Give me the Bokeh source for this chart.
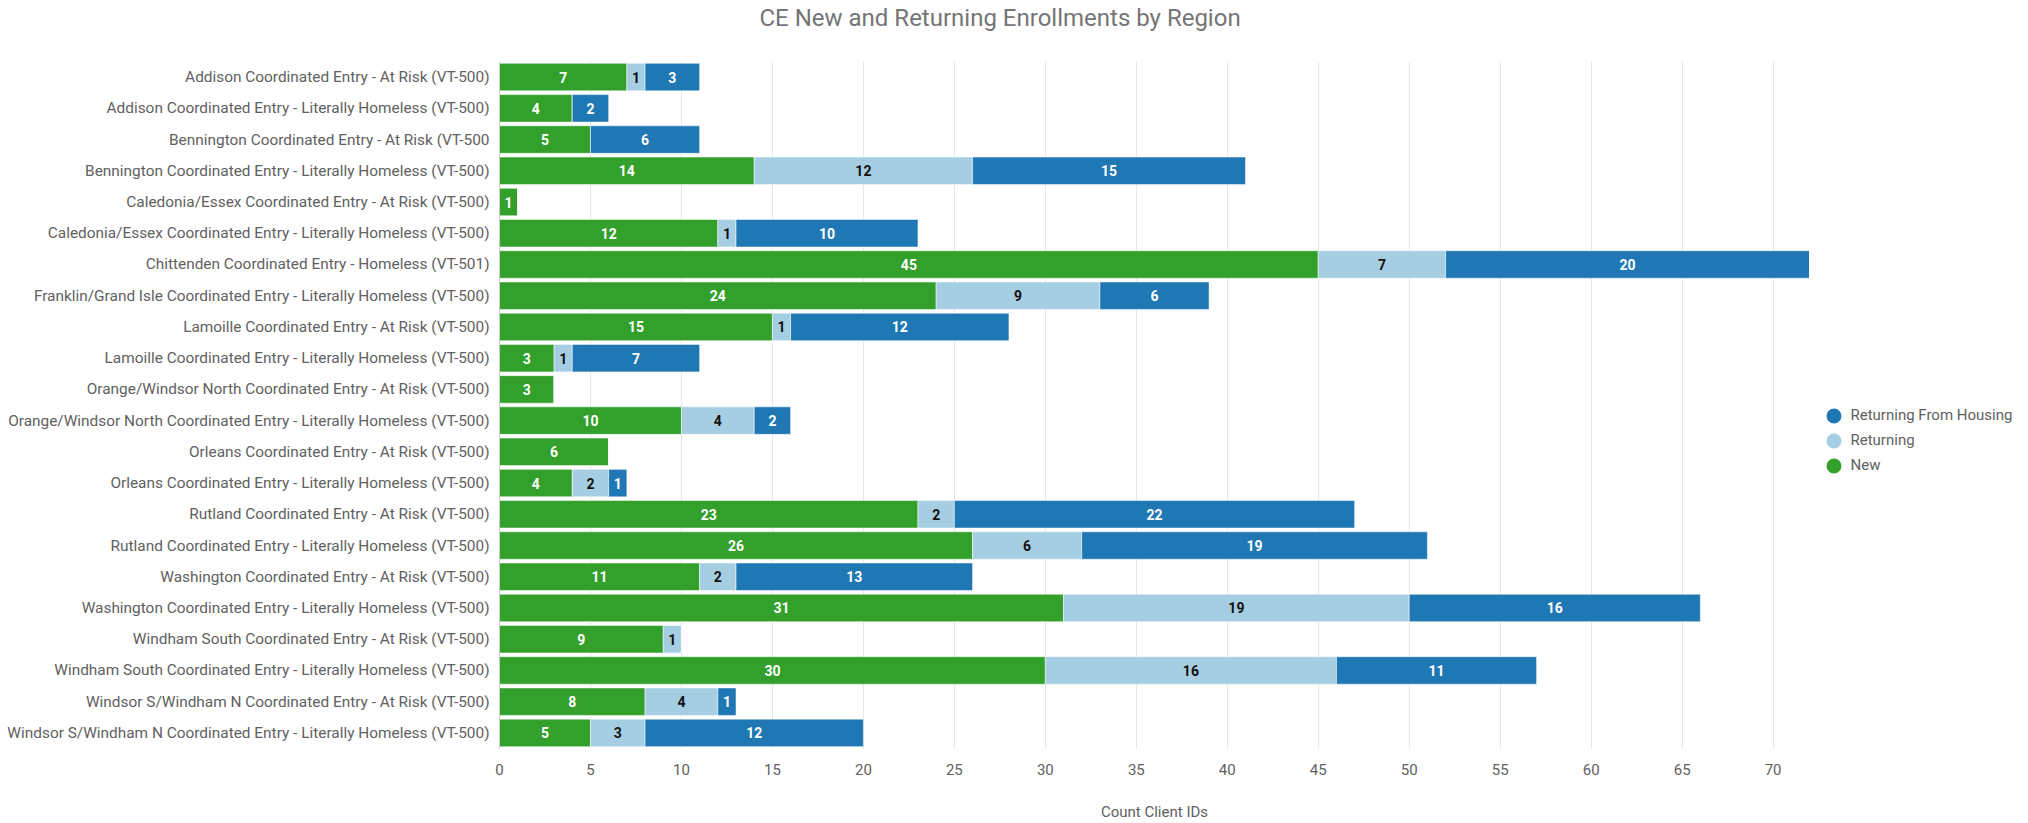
from bokeh.plotting import figure
from bokeh.models import ColumnDataSource, Legend, LegendItem, FactorRange, Label, Range1d
from bokeh.layouts import column, row
from bokeh.core.properties import value
from bokeh.embed import file_html
from bokeh.resources import INLINE

categories = [
    "Addison Coordinated Entry - At Risk (VT-500)",
    "Addison Coordinated Entry - Literally Homeless (VT-500)",
    "Bennington Coordinated Entry - At Risk (VT-500",
    "Bennington Coordinated Entry - Literally Homeless (VT-500)",
    "Caledonia/Essex Coordinated Entry - At Risk (VT-500)",
    "Caledonia/Essex Coordinated Entry - Literally Homeless (VT-500)",
    "Chittenden Coordinated Entry - Homeless (VT-501)",
    "Franklin/Grand Isle Coordinated Entry - Literally Homeless (VT-500)",
    "Lamoille Coordinated Entry - At Risk (VT-500)",
    "Lamoille Coordinated Entry - Literally Homeless (VT-500)",
    "Orange/Windsor North Coordinated Entry - At Risk (VT-500)",
    "Orange/Windsor North Coordinated Entry - Literally Homeless (VT-500)",
    "Orleans Coordinated Entry - At Risk (VT-500)",
    "Orleans Coordinated Entry - Literally Homeless (VT-500)",
    "Rutland Coordinated Entry - At Risk (VT-500)",
    "Rutland Coordinated Entry - Literally Homeless (VT-500)",
    "Washington Coordinated Entry - At Risk (VT-500)",
    "Washington Coordinated Entry - Literally Homeless (VT-500)",
    "Windham South Coordinated Entry - At Risk (VT-500)",
    "Windham South Coordinated Entry - Literally Homeless (VT-500)",
    "Windsor S/Windham N Coordinated Entry - At Risk (VT-500)",
    "Windsor S/Windham N Coordinated Entry - Literally Homeless (VT-500)",
]
new = [7, 4, 5, 14, 1, 12, 45, 24, 15, 3, 3, 10, 6, 4, 23, 26, 11, 31, 9, 30, 8, 5]
returning = [1, 0, 0, 12, 0, 1, 7, 9, 1, 1, 0, 4, 0, 2, 2, 6, 2, 19, 1, 16, 4, 3]
returning_housing = [3, 2, 6, 15, 0, 10, 20, 6, 12, 7, 0, 2, 0, 1, 22, 19, 13, 16, 0, 11, 1, 12]
x_ticks = [0, 5, 10, 15, 20, 25, 30, 35, 40, 45, 50, 55, 60, 65, 70]

series_names = ["New", "Returning", "Returning From Housing"]
series_keys = ["new", "returning", "returning_housing"]
colors = ["#33a02c", "#a6cee3", "#1f78b4"]
label_colors = ["white", "#111111", "white"]

TITLE = "CE New and Returning Enrollments by Region"

source = ColumnDataSource(dict(cat=categories, new=new, returning=returning,
                               returning_housing=returning_housing))

# overall geometry (page pixels)
W, H = 2028, 823
TH = 40                 # height of the title strip
FL, FR, FT, FB = 499, 1809, 61, 749
MH = H - TH             # height of main chart / legend strip

# ---------------- title strip ----------------
tf = figure(width=W, height=TH, output_backend="svg", toolbar_location=None,
            x_range=Range1d(0, 1), y_range=Range1d(0, 1),
            x_axis_location=None, y_axis_location=None)
tf.min_border_left = tf.min_border_right = tf.min_border_top = tf.min_border_bottom = 0
tf.outline_line_color = None
tf.grid.visible = False
tf.add_layout(Label(x=759, y=TH - 17.5, x_units="screen", y_units="screen",
                    text=TITLE, text_font="Roboto", text_font_size="24px",
                    text_color="#757575", text_align="left", text_baseline="middle"))

# ---------------- main chart ----------------
p = figure(width=FR, height=MH, output_backend="svg", toolbar_location=None,
           y_range=FactorRange(factors=list(reversed(categories))),
           x_range=(0, 72))
p.title.text = ""
p.min_border_left = FL
p.min_border_right = 0
p.min_border_top = FT - TH
p.min_border_bottom = H - FB
p.outline_line_color = None

bars = p.hbar_stack(series_keys, y="cat", height=0.88, color=colors, source=source,
                    line_color="white", line_alpha=0.5, line_width=1)

# value labels
lx, ly, lt, lc = [], [], [], []
for i, c in enumerate(categories):
    vals = [new[i], returning[i], returning_housing[i]]
    left = 0
    for j, v in enumerate(vals):
        if v > 0:
            lx.append(left + v / 2)
            ly.append(c)
            lt.append(str(v))
            lc.append(label_colors[j])
        left += v
lab_src = ColumnDataSource(dict(x=lx, y=ly, t=lt, c=lc))
p.text(x="x", y="y", text="t", source=lab_src, text_color="c",
       text_align="center", text_baseline="middle", text_font=value("Roboto"),
       text_font_size="14px", text_font_style="bold")

p.xaxis.ticker = x_ticks
p.xaxis.axis_label = "Count Client IDs"
p.xaxis.axis_label_text_font = "Roboto"
p.xaxis.axis_label_text_font_size = "15px"
p.xaxis.axis_label_text_font_style = "normal"
p.xaxis.axis_label_text_color = "#616161"
p.xaxis.axis_label_standoff = 25
p.xaxis.major_label_text_font = "Roboto"
p.xaxis.major_label_text_font_size = "15px"
p.xaxis.major_label_text_color = "#616161"
p.xaxis.major_label_standoff = 9
p.xaxis.axis_line_color = None
p.xaxis.major_tick_line_color = None
p.xaxis.minor_tick_line_color = None

p.yaxis.major_label_text_font = "Roboto"
p.yaxis.major_label_text_font_size = "15.4px"
p.yaxis.major_label_text_color = "#616161"
p.yaxis.major_label_standoff = 4
p.yaxis.axis_line_color = "#cccccc"
p.yaxis.major_tick_line_color = None
p.yaxis.minor_tick_line_color = None

p.ygrid.grid_line_color = None
p.xgrid.grid_line_color = "#e6e6e6"
p.xgrid.ticker = x_ticks[1:]

# ---------------- legend strip ----------------
lf = figure(width=W - FR, height=MH, output_backend="svg", toolbar_location=None,
            x_range=Range1d(0, 1), y_range=Range1d(0, 1),
            x_axis_location=None, y_axis_location=None)
lf.min_border_left = lf.min_border_right = lf.min_border_top = lf.min_border_bottom = 0
lf.outline_line_color = None
lf.grid.visible = False
dummy = []
for name, col in zip(series_names, colors):
    r = lf.scatter(x=[-10], y=[-10], marker="circle", size=10,
                   fill_color=col, line_color=col, line_width=5)
    dummy.append((name, r))
items = [LegendItem(label=n, renderers=[r]) for n, r in reversed(dummy)]
legend_mid_y = 441      # page y of the middle legend row
legend_h = 2 * 5 + 3 * 25
# the row aligns this strip's frame with the main chart's frame (bottom at FB)
legend = Legend(items=items,
                location=(1815.5 - FR, FB - (legend_mid_y + legend_h / 2)),
                padding=5, margin=0,
                border_line_alpha=0, background_fill_alpha=0,
                label_text_font="Roboto", label_text_font_size="15px",
                label_text_color="#616161", glyph_width=25, glyph_height=25,
                spacing=0, label_standoff=5)
lf.add_layout(legend, "center")

layout = column(tf, row(p, lf, spacing=0), spacing=0)
open("out.html", "w").write(file_html(layout, INLINE))
